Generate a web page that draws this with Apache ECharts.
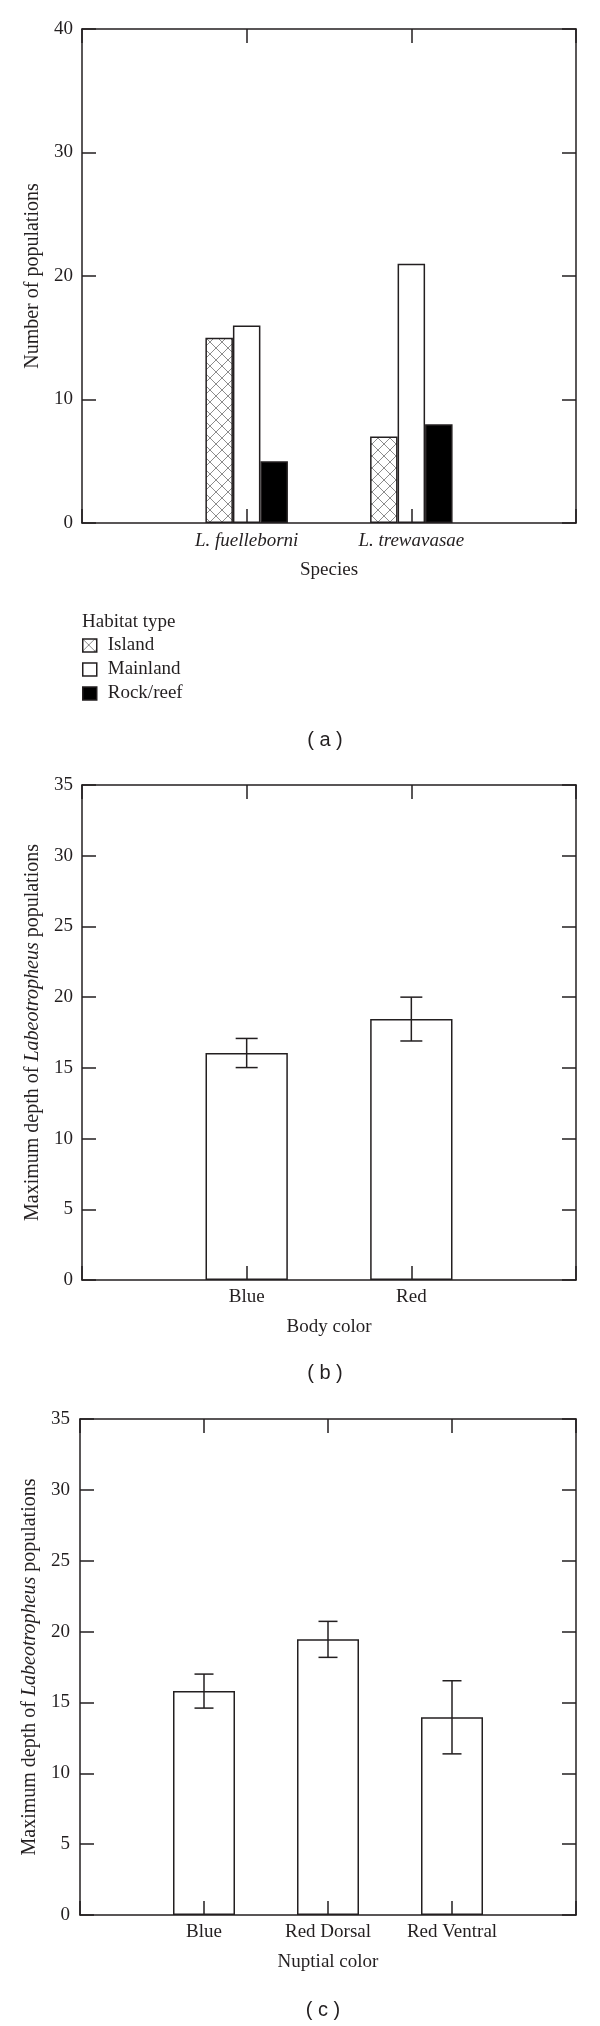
<!DOCTYPE html>
<html>
<head>
<meta charset="utf-8">
<script src="https://cdn.jsdelivr.net/npm/echarts@6/dist/echarts.min.js"></script>
<style>
html,body{margin:0;padding:0;background:#fff;}
#chart{width:600px;height:2026px;}
</style>
</head>
<body>
<div id="chart"></div>
<script>
// ---------- Panel (a): number of populations per habitat type ----------
const speciesCategories = ['L. fuelleborni', 'L. trewavasae'];
const habitatTypes = ['Island', 'Mainland', 'Rock/reef'];
const islandCounts = [15, 7];
const mainlandCounts = [16, 21];
const rockReefCounts = [5, 8];
const countTicks = { min: 0, max: 40, interval: 10 };

// ---------- Panel (b): maximum depth by body color ----------
const bodyColors = ['Blue', 'Red'];
const bodyDepthMeans = [16.05, 18.45];
const bodyDepthErrors = [1.03, 1.55];

// ---------- Panel (c): maximum depth by nuptial color ----------
const nuptialColors = ['Blue', 'Red Dorsal', 'Red Ventral'];
const nuptialDepthMeans = [15.8, 19.45, 13.95];
const nuptialDepthErrors = [1.2, 1.27, 2.58];
const depthTicks = { min: 0, max: 35, interval: 5 };

// ---------- Styling ----------
const FONT = '"Liberation Serif", "Times New Roman", serif';
const SANS = '"Liberation Sans", Arial, sans-serif';
const INK = '#231f20';
const LW = 1.5;
const FS = 19;
const NAME_FS = 20;

const pad = arr => ['', ...arr, ''];
const padVals = arr => [null, ...arr, null];

function makeCrossHatch() {
  const s = 12;
  const c = document.createElement('canvas');
  c.width = s; c.height = s;
  const g = c.getContext('2d');
  g.fillStyle = '#ffffff';
  g.fillRect(0, 0, s, s);
  g.strokeStyle = '#8c8c8c';
  g.lineWidth = 1;
  g.beginPath();
  for (const o of [-s, 0, s]) {
    g.moveTo(o - 1, -1); g.lineTo(o + s + 1, s + 1);
    g.moveTo(o + s + 1, -1); g.lineTo(o - 1, s + 1);
  }
  g.stroke();
  return c;
}
const hatch = { image: makeCrossHatch(), repeat: 'repeat' };

const grids = [
  { left: 82, top: 29, width: 494, height: 494 },
  { left: 82, top: 785, width: 494, height: 495 },
  { left: 80, top: 1419, width: 496, height: 496 }
].map(g => Object.assign({ outerBoundsMode: 'none', containLabel: false }, g));

function xAxes(gi, cats, name, italic) {
  const base = {
    type: 'category', gridIndex: gi, data: pad(cats), boundaryGap: false, z: 5,
    axisLine: { show: true, onZero: false, lineStyle: { color: INK, width: LW } },
    axisTick: { show: true, inside: true, length: 14, lineStyle: { color: INK, width: LW } },
    splitLine: { show: false }
  };
  return [
    Object.assign({}, base, {
      position: 'bottom', name: name, nameLocation: 'middle', nameGap: 38,
      nameTextStyle: { fontFamily: FONT, fontSize: FS, color: INK },
      axisLabel: { show: true, interval: 0, margin: 8, fontFamily: FONT, fontSize: FS, color: INK,
                   fontStyle: italic ? 'italic' : 'normal' }
    }),
    Object.assign({}, base, { position: 'top', axisLabel: { show: false } })
  ];
}

function yAxes(gi, ticks, name, margin) {
  const base = {
    type: 'value', gridIndex: gi, min: ticks.min, max: ticks.max, interval: ticks.interval, z: 5,
    axisLine: { show: true, lineStyle: { color: INK, width: LW } },
    axisTick: { show: true, inside: true, length: 14, lineStyle: { color: INK, width: LW } },
    splitLine: { show: false }
  };
  return [
    Object.assign({}, base, {
      position: 'left', name: name, nameLocation: 'middle', nameGap: 38, nameRotate: 90,
      nameTextStyle: { fontFamily: FONT, fontSize: NAME_FS, color: INK,
        rich: { i: { fontFamily: FONT, fontSize: NAME_FS, fontStyle: 'italic', color: INK } } },
      axisLabel: { margin: margin, fontFamily: FONT, fontSize: FS, color: INK }
    }),
    Object.assign({}, base, { position: 'right', axisLabel: { show: false } })
  ];
}

function errorSeries(axisIdx, cats, means, errs, cap) {
  return {
    type: 'custom', xAxisIndex: axisIdx, yAxisIndex: axisIdx, z: 4,
    data: cats.map((c, i) => [c, means[i] - errs[i], means[i] + errs[i]]),
    renderItem: function (params, api) {
      const hi = api.coord([api.value(0), api.value(2)]);
      const lo = api.coord([api.value(0), api.value(1)]);
      const st = { stroke: INK, lineWidth: LW };
      const h = cap / 2;
      return {
        type: 'group',
        children: [
          { type: 'line', shape: { x1: hi[0], y1: hi[1], x2: lo[0], y2: lo[1] }, style: st },
          { type: 'line', shape: { x1: hi[0] - h, y1: hi[1], x2: hi[0] + h, y2: hi[1] }, style: st },
          { type: 'line', shape: { x1: lo[0] - h, y1: lo[1], x2: lo[0] + h, y2: lo[1] }, style: st }
        ]
      };
    }
  };
}

const depthName = 'Maximum depth of {i|Labeotropheus} populations';

const option = {
  animation: false,
  backgroundColor: '#ffffff',
  grid: grids,
  xAxis: [
    ...xAxes(0, speciesCategories, 'Species', true),
    ...xAxes(1, bodyColors, 'Body color', false),
    ...xAxes(2, nuptialColors, 'Nuptial color', false)
  ],
  yAxis: [
    ...yAxes(0, countTicks, 'Number of populations', 9),
    ...yAxes(1, depthTicks, depthName, 9),
    ...yAxes(2, depthTicks, depthName, 10)
  ],
  legend: {
    data: habitatTypes,
    orient: 'vertical',
    left: 82, top: 636,
    padding: 0,
    itemWidth: 14, itemHeight: 13, itemGap: 5,
    icon: 'rect',
    selectedMode: false,
    itemStyle: { borderWidth: LW, borderColor: INK },
    textStyle: { fontFamily: FONT, fontSize: FS, color: INK, lineHeight: 18, padding: [0, 0, 0, 6] }
  },
  series: [
    { name: habitatTypes[0], type: 'bar', xAxisIndex: 0, yAxisIndex: 0, barWidth: '16.7%', barGap: '0%',
      data: padVals(islandCounts), itemStyle: { color: hatch, borderColor: INK, borderWidth: LW } },
    { name: habitatTypes[1], type: 'bar', xAxisIndex: 0, yAxisIndex: 0, barWidth: '16.7%', barGap: '0%',
      data: padVals(mainlandCounts), itemStyle: { color: '#ffffff', borderColor: INK, borderWidth: LW } },
    { name: habitatTypes[2], type: 'bar', xAxisIndex: 0, yAxisIndex: 0, barWidth: '16.7%', barGap: '0%',
      data: padVals(rockReefCounts), itemStyle: { color: '#000000', borderColor: INK, borderWidth: LW } },

    { type: 'bar', xAxisIndex: 2, yAxisIndex: 2, barWidth: '50%',
      data: padVals(bodyDepthMeans), itemStyle: { color: '#ffffff', borderColor: INK, borderWidth: LW } },
    errorSeries(2, bodyColors, bodyDepthMeans, bodyDepthErrors, 22),

    { type: 'bar', xAxisIndex: 4, yAxisIndex: 4, barWidth: '50%',
      data: padVals(nuptialDepthMeans), itemStyle: { color: '#ffffff', borderColor: INK, borderWidth: LW } },
    errorSeries(4, nuptialColors, nuptialDepthMeans, nuptialDepthErrors, 19)
  ],
  graphic: [
    { type: 'text', x: 82, y: 622, style: { text: 'Habitat type', font: FS + 'px ' + FONT, fill: INK, align: 'left', verticalAlign: 'middle' } },
    { type: 'text', x: 325, y: 740, style: { text: '( a )', font: '20px ' + SANS, fill: INK, align: 'center', verticalAlign: 'middle' } },
    { type: 'text', x: 325, y: 1373, style: { text: '( b )', font: '20px ' + SANS, fill: INK, align: 'center', verticalAlign: 'middle' } },
    { type: 'text', x: 323, y: 2010, style: { text: '( c )', font: '20px ' + SANS, fill: INK, align: 'center', verticalAlign: 'middle' } }
  ]
};

const chart = echarts.init(document.getElementById('chart'), null, { renderer: 'canvas' });
chart.setOption(option);
</script>
</body>
</html>
